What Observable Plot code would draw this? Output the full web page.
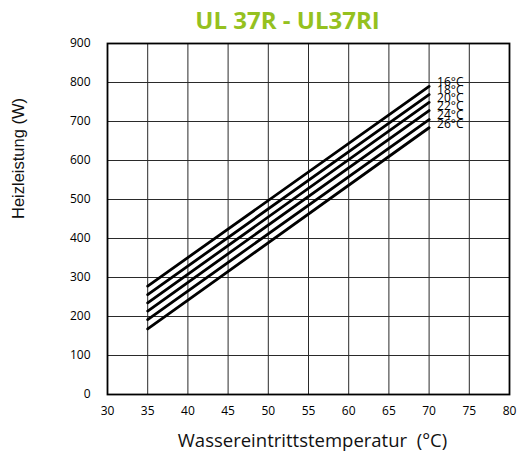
<!DOCTYPE html>
<html>
<head>
<meta charset="utf-8">
<script src="https://cdn.jsdelivr.net/npm/d3@7"></script>
<script src="https://cdn.jsdelivr.net/npm/@observablehq/plot@0.6"></script>
<style>
  html, body { margin: 0; padding: 0; background: #fff; }
  #chart svg { display: block; overflow: visible; }
</style>
</head>
<body>
<div id="chart"></div>
<script>
const title = "UL 37R - UL37RI";
const xTitle = "Wassereintrittstemperatur  (°C)";
const yTitle = "Heizleistung (W)";
const xTicks = [30, 35, 40, 45, 50, 55, 60, 65, 70, 75, 80];
const yTicks = [0, 100, 200, 300, 400, 500, 600, 700, 800, 900];
const roomTemps = ["16°C", "18°C", "20°C", "22°C", "24°C", "26°C"];
const waterStart = 35;
const waterEnd = 70;
const powerAtStart = [278, 256, 235, 214, 192, 168];
const powerAtEnd = [790, 769, 749, 728, 705, 684];

const lineData = roomTemps.flatMap((t, i) => [
  {series: t, x: waterStart, y: powerAtStart[i]},
  {series: t, x: waterEnd, y: powerAtEnd[i]}
]);
const labelData = roomTemps.map((t, i) => ({label: t, x: waterEnd, y: powerAtEnd[i]}));

const chart = Plot.plot({
  width: 517,
  height: 455,
  marginLeft: 107,
  marginRight: 8,
  marginTop: 43,
  marginBottom: 61,
  style: {fontFamily: "'Open Sans', sans-serif", fontSize: "12px", color: "#000", background: "#fff"},
  x: {domain: [30, 80], ticks: xTicks, label: null},
  y: {domain: [0, 900], ticks: yTicks, label: null},
  marks: [
    Plot.gridX(xTicks, {stroke: "#2a2a2a", strokeOpacity: 1, strokeWidth: 1}),
    Plot.gridY(yTicks, {stroke: "#2a2a2a", strokeOpacity: 1, strokeWidth: 1}),
    Plot.frame({stroke: "#000", strokeWidth: 1.8}),
    Plot.axisX({ticks: xTicks, tickSize: 0, tickPadding: 12, label: null, fontSize: 12}),
    Plot.axisY({ticks: yTicks, tickSize: 0, tickPadding: 17, label: null, fontSize: 12}),
    Plot.line(lineData, {x: "x", y: "y", z: "series", stroke: "#000", strokeWidth: 2.8}),
    Plot.text(labelData, {x: "x", y: "y", text: "label", textAnchor: "start", dx: 8, dy: -4, fontSize: 12, fill: "#000"}),
    Plot.text([title], {frameAnchor: "top", lineAnchor: "middle", text: d => d, dx: -21, dy: -22, fontSize: 24, fontWeight: "bold", fill: "#95c11f"}),
    Plot.text([xTitle], {frameAnchor: "bottom", lineAnchor: "middle", text: d => d, dx: 4, dy: 47, fontSize: 18.5, fill: "#111"}),
    Plot.text([yTitle], {frameAnchor: "left", text: d => d, rotate: -90, dx: -89, fontSize: 16.5, fontFamily: "'Liberation Sans', Arial, sans-serif", fill: "#111"})
  ]
});
document.getElementById("chart").appendChild(chart);
</script>
</body>
</html>
